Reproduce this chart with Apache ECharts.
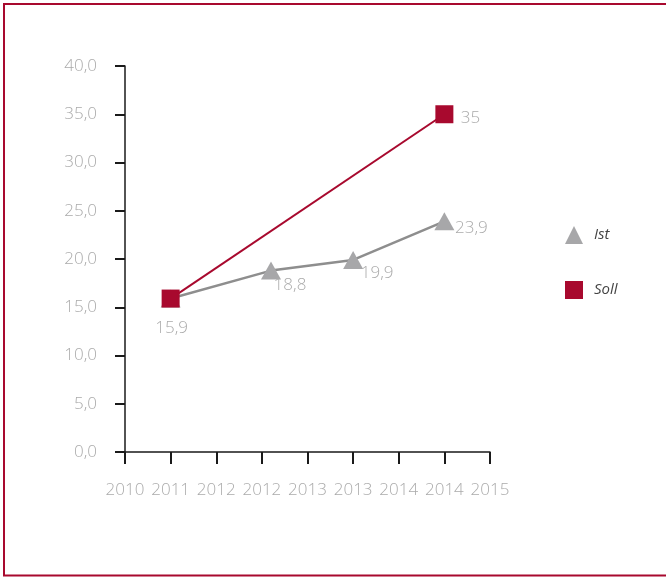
<!DOCTYPE html>
<html>
<head>
<meta charset="utf-8">
<script src="https://cdn.jsdelivr.net/npm/echarts@6/dist/echarts.min.js"></script>
<style>
  html, body { margin: 0; padding: 0; background: #fff; overflow: hidden; }
  #chart { position: absolute; left: 0; top: 0; width: 666px; height: 577px; }
</style>
</head>
<body>
<div id="chart"></div>
<script>
// Tick labels along the horizontal axis (one per half-year tick)
var xTickLabels = ['2010', '2011', '2012', '2012', '2013', '2013', '2014', '2014', '2015'];

// Ist (actual) series: positions on the tick scale and values
var istX = [1, 3.2, 5, 7];
var istValues = [15.9, 18.8, 19.9, 23.9];

// Soll (target) series
var sollX = [1, 7];
var sollValues = [15.9, 35];

// Label offsets (pixels) relative to each marker centre
var istLabelOffsets = [null, [19, 15], [24, 13], [27, 7]];
var sollLabelOffsets = [[1, 30], [26, 4]];

var RED = '#a8092e';
var GREY_LINE = '#8e8e8e';
var GREY_MARK = '#a7a7a9';
var LABEL_GREY = '#ababab';
var FONT = '"Open Sans", "Liberation Sans", sans-serif';

function fmt(v) { return String(v).replace('.', ','); }

function buildData(xs, ys, offsets) {
  return xs.map(function (x, i) {
    var item = { value: [x, ys[i]] };
    if (offsets[i]) {
      item.label = { show: true, position: 'inside', offset: offsets[i] };
    } else {
      item.label = { show: false };
    }
    return item;
  });
}

var labelStyle = {
  color: LABEL_GREY, fontSize: 17, fontFamily: FONT, fontWeight: 300,
  formatter: function (p) { return fmt(p.value[1]); }
};

var chart = echarts.init(document.getElementById('chart'), null, { renderer: 'canvas' });
chart.setOption({
  animation: false,
  backgroundColor: '#fff',
  // open frame: left, top and bottom edges in the brand red
  graphic: [{
    type: 'polyline', silent: true, z: 0,
    shape: { points: [[680, 4], [4, 4], [4, 575.5], [680, 575.5]] },
    style: { stroke: RED, lineWidth: 2, fill: null }
  }],
  grid: { left: 125, top: 66, width: 365, height: 386, containLabel: false },
  xAxis: {
    type: 'value', min: 0, max: 8, interval: 1,
    axisLine: { show: true, lineStyle: { color: '#1a1a1a', width: 1.5 } },
    axisTick: { show: true, length: 12, lineStyle: { color: '#1a1a1a', width: 2 } },
    splitLine: { show: false },
    axisLabel: {
      margin: 30, color: LABEL_GREY, fontSize: 17, fontFamily: FONT, fontWeight: 300,
      formatter: function (v) { return xTickLabels[Math.round(v)] || ''; }
    }
  },
  yAxis: {
    type: 'value', min: 0, max: 40, interval: 5,
    axisLine: { show: true, lineStyle: { color: '#1a1a1a', width: 1.5 } },
    axisTick: { show: true, length: 10, lineStyle: { color: '#1a1a1a', width: 2 } },
    splitLine: { show: false },
    axisLabel: {
      margin: 28, fontSize: 17, fontFamily: FONT, fontWeight: 300,
      color: function (v) { return v === 0 ? '#4a4a4a' : LABEL_GREY; },
      formatter: function (v) { return v.toFixed(1).replace('.', ','); }
    }
  },
  legend: {
    orient: 'vertical', left: 560, top: 221, itemWidth: 18, itemHeight: 18, itemGap: 37,
    textStyle: { color: '#444', fontSize: 15, fontStyle: 'italic', fontFamily: FONT, padding: [0, 0, 0, 6] },
    data: [
      { name: 'Ist', icon: 'triangle' },
      { name: 'Soll', icon: 'rect' }
    ]
  },
  series: [
    {
      name: 'Ist', type: 'line',
      data: buildData(istX, istValues, istLabelOffsets),
      symbol: 'triangle', symbolSize: [20, 18],
      itemStyle: { color: GREY_MARK },
      lineStyle: { color: GREY_LINE, width: 2.5 },
      label: labelStyle,
      z: 2
    },
    {
      name: 'Soll', type: 'line',
      data: buildData(sollX, sollValues, sollLabelOffsets),
      symbol: 'rect', symbolSize: 18,
      itemStyle: { color: RED },
      lineStyle: { color: RED, width: 2 },
      label: labelStyle,
      z: 3
    }
  ]
});
</script>
</body>
</html>
